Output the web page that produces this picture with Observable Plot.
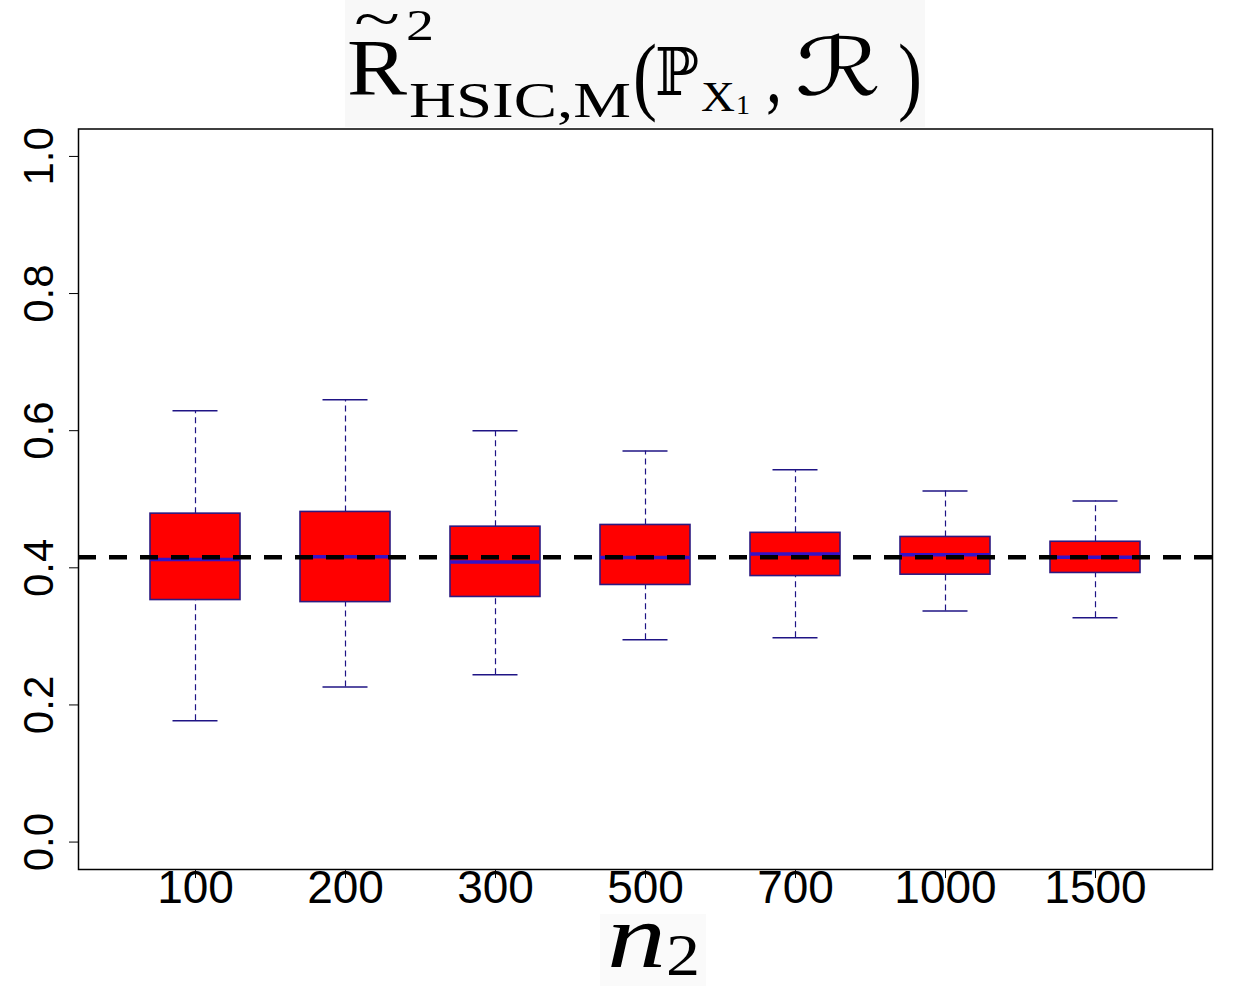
<!DOCTYPE html>
<html>
<head>
<meta charset="utf-8">
<script src="https://cdn.jsdelivr.net/npm/d3@7"></script>
<script src="https://cdn.jsdelivr.net/npm/@observablehq/plot@0.6"></script>
<style>
  html, body { margin: 0; padding: 0; background: #fff; }
  #wrap { position: relative; width: 1253px; height: 989px; overflow: hidden; }
  #overlay { position: absolute; left: 0; top: 0; pointer-events: none; }
</style>
</head>
<body>
<div id="wrap">
  <div id="chart"></div>
  <svg id="overlay" width="1253" height="989" xmlns="http://www.w3.org/2000/svg">
    <rect x="345" y="0" width="580" height="127" fill="#f8f8f8"></rect>
    <g font-family="'Liberation Serif', 'DejaVu Serif', serif" fill="#000">
      <text x="347" y="95" font-size="80" textLength="60" lengthAdjust="spacingAndGlyphs">R</text>
      <text x="354" y="38" font-size="56" textLength="46" lengthAdjust="spacingAndGlyphs">~</text>
      <text x="406" y="40" font-size="44" textLength="28" lengthAdjust="spacingAndGlyphs">2</text>
      <text x="409" y="117" font-size="50" textLength="222" lengthAdjust="spacingAndGlyphs">HSIC,M</text>
      <text x="633" y="104" font-size="86" textLength="24" lengthAdjust="spacingAndGlyphs">(</text>
      <text x="655" y="95" font-family="'DejaVu Serif', 'DejaVu Sans', serif" font-size="66" textLength="44" lengthAdjust="spacingAndGlyphs">ℙ</text>
      <text x="701" y="111" font-size="42" textLength="34" lengthAdjust="spacingAndGlyphs">X</text>
      <text x="736" y="114" font-size="28" textLength="14" lengthAdjust="spacingAndGlyphs">1</text>
      <text x="766" y="102" font-size="80" textLength="16" lengthAdjust="spacingAndGlyphs">,</text>
      <text x="795" y="95" font-family="'DejaVu Sans', 'DejaVu Serif', serif" font-style="italic" font-size="80" textLength="86" lengthAdjust="spacingAndGlyphs">ℛ</text>
      <text x="898" y="104" font-size="86" textLength="24" lengthAdjust="spacingAndGlyphs">)</text>
    </g>
    <rect x="600" y="914" width="106" height="72" fill="#fafafa"></rect>
    <g font-family="'Liberation Serif', 'DejaVu Serif', serif" fill="#000">
      <text x="607" y="967" font-size="90" font-style="italic" textLength="59" lengthAdjust="spacingAndGlyphs">n</text>
      <text x="666" y="975" font-size="60" textLength="34" lengthAdjust="spacingAndGlyphs">2</text>
    </g>
  </svg>
</div>
<script>
// ---- data ----
const n2Labels    = ["100", "200", "300", "500", "700", "1000", "1500"];
const whiskerLow  = [0.177, 0.226, 0.244, 0.295, 0.298, 0.337, 0.327];
const q1          = [0.353, 0.350, 0.3575, 0.375, 0.388, 0.390, 0.3925];
const median      = [0.412, 0.416, 0.4085, 0.415, 0.420, 0.419, 0.4153];
const q3          = [0.479, 0.4815, 0.460, 0.4625, 0.451, 0.445, 0.438];
const whiskerHigh = [0.629, 0.645, 0.600, 0.5705, 0.543, 0.512, 0.4975];
const reference   = 0.4153;
const yTicks      = [0, 0.2, 0.4, 0.6, 0.8, 1.0];

const boxHalf = 0.3, capHalf = 0.15;
const rows = n2Labels.map((label, i) => ({
  label, pos: i + 1,
  lo: whiskerLow[i], q1: q1[i], med: median[i], q3: q3[i], hi: whiskerHigh[i]
}));

const navy = "#1f1485";
const chart = Plot.plot({
  width: 1253,
  height: 989,
  marginTop: 128.5,
  marginBottom: 120,
  marginLeft: 78,
  marginRight: 41,
  style: { fontFamily: "'Liberation Sans', Arial, sans-serif", background: "transparent", overflow: "visible" },
  x: { type: "linear", domain: [0.22, 7.78] },
  y: { domain: [-0.04, 1.04] },
  marks: [
    Plot.axisX({
      ticks: rows.map(d => d.pos),
      tickFormat: p => n2Labels[p - 1],
      tickSize: 9, tickPadding: -8, fontSize: 46, label: null, stroke: "#000", color: "#000"
    }),
    Plot.axisY({
      ticks: yTicks,
      tickFormat: d3.format(".1f"),
      tickSize: 9, tickPadding: 17, tickRotate: -90, fontSize: 42, label: null, color: "#000"
    }),
    Plot.ruleX(rows, { x: "pos", y1: "q3", y2: "hi", stroke: navy, strokeWidth: 1.2, strokeDasharray: "6,4" }),
    Plot.ruleX(rows, { x: "pos", y1: "lo", y2: "q1", stroke: navy, strokeWidth: 1.2, strokeDasharray: "6,4" }),
    Plot.ruleY(rows, { y: "hi", x1: d => d.pos - capHalf, x2: d => d.pos + capHalf, stroke: navy, strokeWidth: 1.5 }),
    Plot.ruleY(rows, { y: "lo", x1: d => d.pos - capHalf, x2: d => d.pos + capHalf, stroke: navy, strokeWidth: 1.5 }),
    Plot.rectY(rows, { x1: d => d.pos - boxHalf, x2: d => d.pos + boxHalf, y1: "q1", y2: "q3", fill: "#ff0000", stroke: "#2d1a80", strokeWidth: 1.6 }),
    Plot.ruleY(rows, { y: "med", x1: d => d.pos - boxHalf, x2: d => d.pos + boxHalf, stroke: "#3512c8", strokeWidth: 3.5 }),
    Plot.ruleY([reference], { stroke: "#000", strokeWidth: 4.5, strokeDasharray: "18,13" }),
    Plot.frame({ stroke: "#000", strokeWidth: 1.5 })
  ]
});
document.getElementById("chart").appendChild(chart);
</script>
</body>
</html>
